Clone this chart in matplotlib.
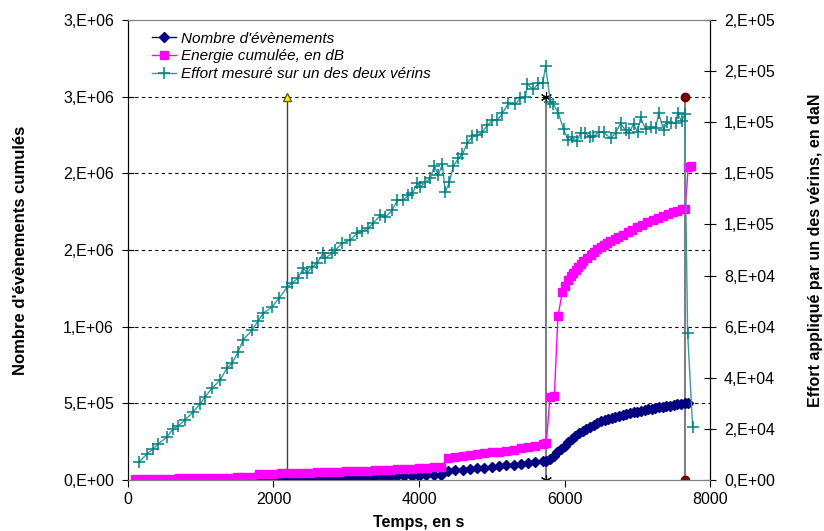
import matplotlib.pyplot as plt
from matplotlib.ticker import FuncFormatter
import math

plt.rcParams['font.family'] = ['Liberation Sans', 'DejaVu Sans']

# effort mesure sur un des deux verins (axe de droite, daN)
t_effort = [151, 261, 344, 413, 537, 619, 688, 784, 894, 991, 1060, 1156, 1266, 1362, 1431,
            1514, 1582, 1706, 1789, 1858, 1981, 2078, 2188, 2257, 2339, 2408, 2463, 2532,
            2601, 2683, 2711, 2807, 2848, 2945, 3055, 3151, 3220, 3302, 3371, 3468, 3536,
            3633, 3702, 3784, 3853, 3908, 3977, 4018, 4087, 4156, 4211, 4266, 4321, 4362,
            4417, 4472, 4541, 4596, 4665, 4733, 4802, 4871, 4940, 5009, 5077, 5146, 5229,
            5325, 5394, 5463, 5490, 5573, 5642, 5700, 5740, 5807, 5848, 5917, 5986, 6054,
            6109, 6165, 6220, 6288, 6357, 6398, 6467, 6536, 6632, 6701, 6770, 6839, 6880,
            6949, 7004, 7045, 7114, 7183, 7252, 7293, 7362, 7403, 7458, 7527, 7554, 7609,
            7650, 7692, 7761]
effort = [7000, 10200, 12100, 14100, 16800, 20000, 21100, 23500, 26600, 29700, 32500, 36000,
          39100, 43800, 45800, 50100, 54800, 58700, 62200, 65300, 67700, 71200, 75500, 77100,
          79000, 82900, 81000, 83300, 84900, 88800, 86800, 88800, 89900, 92700, 93900, 96600,
          97400, 98600, 100500, 103600, 102800, 105600, 109500, 109500, 111400, 112200, 116100,
          114600, 116500, 118100, 122800, 119300, 123600, 112600, 116500, 122800, 125900,
          127500, 131800, 134500, 134900, 136100, 138800, 140800, 140800, 143500, 147400,
          147000, 149400, 149800, 154800, 152900, 155200, 155200, 161900, 147800, 147000,
          143500, 137200, 132900, 134100, 132500, 135700, 135700, 134100, 134500, 136100,
          136100, 133700, 135700, 139600, 136900, 135700, 139200, 136100, 141900, 137200,
          138000, 137600, 143500, 136900, 140000, 139600, 139600, 143500, 140400, 143100,
          57500, 20700]

# energie cumulee (axe de gauche)
t_energie = [100, 200, 300, 400, 500, 600, 700, 800, 900, 1000, 1100, 1200, 1300, 1400, 1500,
             1600, 1700, 1800, 1900, 2000, 2100, 2200, 2300, 2400, 2500, 2600, 2700, 2800,
             2900, 3000, 3100, 3200, 3300, 3400, 3500, 3600, 3700, 3800, 3900, 4000, 4100,
             4200, 4300, 4400, 4500, 4600, 4700, 4800, 4900, 5000, 5100, 5200, 5300, 5400,
             5500, 5600, 5700, 5750, 5800, 5860, 5910, 5970, 6010, 6050, 6090, 6120, 6160,
             6190, 6230, 6260, 6310, 6360, 6410, 6450, 6500, 6540, 6590, 6630, 6690, 6740,
             6800, 6870, 6930, 7000, 7070, 7140, 7210, 7280, 7350, 7420, 7490, 7550, 7610,
             7660, 7700, 7740]
energie = [5000, 6000, 7000, 8000, 8500, 9000, 10000, 11000, 11500, 12000, 13000, 14000,
           15000, 16000, 17000, 18000, 19000, 38000, 40000, 41000, 43000, 44000, 46000, 47000,
           49000, 50000, 52000, 53000, 55000, 56000, 58000, 60000, 61000, 63000, 65000, 67000,
           69000, 71000, 74000, 76000, 79000, 82000, 85000, 145000, 150000, 156000, 162000,
           167000, 173000, 180000, 186000, 192000, 199000, 206000, 215000, 225000, 238000,
           242000, 540000, 545000, 1070000, 1226000, 1265000, 1304000, 1330000, 1350000,
           1372000, 1389000, 1410000, 1428000, 1450000, 1467000, 1485000, 1507000, 1520000,
           1533000, 1548000, 1559000, 1575000, 1585000, 1600000, 1617000, 1633000, 1650000,
           1665000, 1683000, 1696000, 1709000, 1722000, 1735000, 1748000, 1757000, 1767000,
           1770000, 2040000, 2050000]

# nombre d'evenements cumules (axe de gauche)
t_nombre = [1800, 1900, 2000, 2100, 2200, 2300, 2400, 2500, 2600, 2700, 2800, 2900, 3000,
            3100, 3200, 3300, 3400, 3500, 3600, 3700, 3800, 3900, 4000, 4100, 4200, 4300,
            4400, 4500, 4600, 4700, 4800, 4900, 5000, 5100, 5200, 5300, 5400, 5500, 5600,
            5700, 5750, 5800, 5850, 5900, 5950, 6000, 6050, 6100, 6150, 6200, 6250, 6300,
            6350, 6400, 6450, 6500, 6550, 6600, 6650, 6700, 6750, 6800, 6850, 6900, 6950,
            7000, 7050, 7100, 7150, 7200, 7250, 7300, 7350, 7400, 7450, 7500, 7550, 7600,
            7650, 7700]
nombre = [0, 1000, 2000, 3000, 4000, 5000, 6000, 7000, 8000, 9000, 10000, 11500, 13000,
          14500, 16000, 17500, 19000, 20500, 22000, 24000, 26000, 28000, 29500, 31000, 33000,
          35000, 58000, 63000, 67000, 72000, 76000, 81000, 85000, 90000, 95000, 100000,
          105000, 110000, 116000, 122000, 126000, 140000, 158000, 180000, 202000, 225000,
          248000, 270000, 288000, 305000, 320000, 335000, 349000, 362000, 372000, 382000,
          390000, 398000, 405000, 412000, 418000, 424000, 431000, 437000, 442000, 446000,
          451000, 456000, 461000, 466000, 470000, 474000, 478000, 482000, 486000, 490000,
          494000, 498000, 501000, 503000]

# reperes verticaux
t_reperes = [2190, 5750, 7660]
repere_haut = 2.5e6


def excel_fmt(v, pos):
    if v <= 0:
        return "0,E+00"
    e = int(math.floor(math.log10(v) + 1e-9))
    m = int(v / 10 ** e + 0.5 + 1e-9)
    return "%d,E+%02d" % (m, e)


fig = plt.figure(figsize=(8.24, 5.31), dpi=100)
ax = fig.add_axes([0.1553, 0.0960, 0.7064, 0.8663])
ax2 = ax.twinx()

ax.set_xlim(0, 8000)
ax.set_ylim(0, 3e6)
ax2.set_ylim(0, 1.8e5)
ax.set_xticks([0, 2000, 4000, 6000, 8000])
ax.set_yticks([0, 5e5, 1e6, 1.5e6, 2e6, 2.5e6, 3e6])
ax2.set_yticks([0, 2e4, 4e4, 6e4, 8e4, 1e5, 1.2e5, 1.4e5, 1.6e5, 1.8e5])
ax.yaxis.set_major_formatter(FuncFormatter(excel_fmt))
ax2.yaxis.set_major_formatter(FuncFormatter(excel_fmt))

for g in [5e5, 1e6, 1.5e6, 2e6, 2.5e6]:
    ax.axhline(g, color='black', lw=0.8, ls=(0, (3, 3)), zorder=1)

# lignes verticales
ax.plot([t_reperes[0]] * 2, [0, repere_haut], color='#404040', lw=1, marker='^',
        ms=6, mfc='#ffff00', mec='#606000', zorder=2)
ax.plot([t_reperes[1]] * 2, [0, repere_haut], color='#808080', lw=1.5, marker=(6, 2, 0),
        ms=8, mec='black', mew=0.8, zorder=2)
ax.plot([t_reperes[2]] * 2, [0, repere_haut], color='#808080', lw=1.5, marker='o',
        ms=6, mfc='#800000', mec='#600000', zorder=2)

l1, = ax.plot(t_nombre, nombre, color='#000080', lw=1, marker='D', ms=5,
              label="Nombre d'évènements", zorder=3)
l2, = ax.plot(t_energie, energie, color='#ff00ff', lw=1, marker='s', ms=6,
              label="Energie cumulée, en dB", zorder=4)
l3, = ax2.plot(t_effort, effort, color='#3a9a9a', lw=1, marker='+', ms=8,
               mec='#008080', mew=1.1, label="Effort mesuré sur un des deux vérins")

ax.tick_params(axis='y', direction='inout', length=8, labelsize=11.5, pad=6)
ax2.tick_params(axis='y', direction='inout', length=8, labelsize=11.5, pad=6)
ax.tick_params(axis='x', direction='out', length=5, labelsize=11.5)
for a in (ax, ax2):
    a.spines['top'].set_color('#808080')
    a.spines['bottom'].set_color('#808080')
    a.spines['left'].set_color('black')
    a.spines['right'].set_color('black')

ax.set_xlabel("Temps, en s", fontsize=11.5, fontweight='bold', labelpad=6)
ax.set_ylabel("Nombre d'évènements cumulés", fontsize=12, fontweight='bold', labelpad=25)
ax2.set_ylabel("Effort appliqué par un des vérins, en daN", fontsize=11.5,
               fontweight='bold', rotation=90, labelpad=24)

leg = ax2.legend(handles=[l1, l2, l3], loc='upper left', bbox_to_anchor=(0.041, 0.975),
                 frameon=False, fontsize=11, handlelength=1.6, handletextpad=0.3,
                 labelspacing=0.25, borderpad=0, borderaxespad=0)
for t in leg.get_texts():
    t.set_fontstyle('italic')

fig.savefig('out.png', dpi=100)
